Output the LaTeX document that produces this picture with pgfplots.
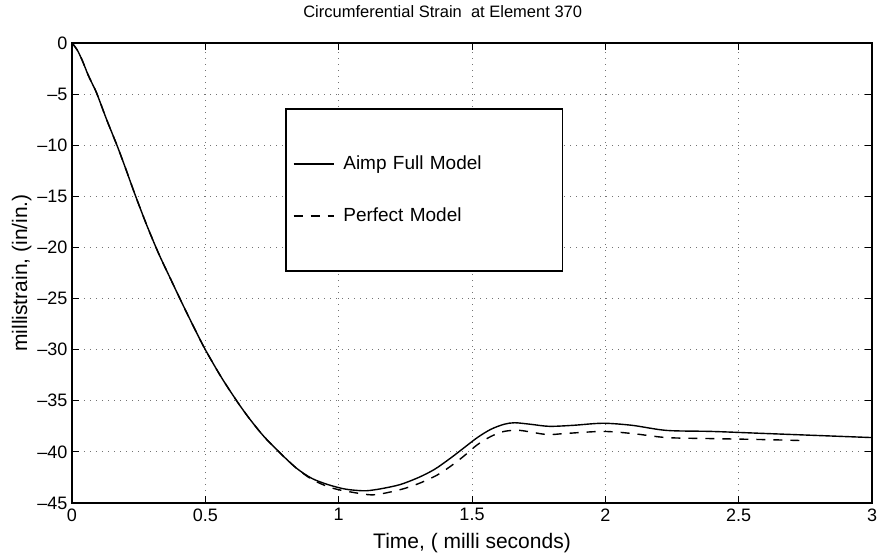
\documentclass[border=0pt]{standalone}
\usepackage{fontspec}
\setmainfont{Liberation Sans}
\usepackage{pgfplots}
\pgfplotsset{compat=1.18}
\begin{document}
\begin{tikzpicture}
\begin{axis}[
  name=ax,
  scale only axis,
  width=800pt, height=460pt,
  xmin=0, xmax=3, ymin=-45, ymax=0,
  xtick={0,0.5,1,1.5,2,2.5,3},
  xticklabels={0,0.5,1,1.5,2,2.5,3},
  ytick={-45,-40,-35,-30,-25,-20,-15,-10,-5,0},
  yticklabels={–45,–40,–35,–30,–25,–20,–15,–10,–5,0},
  tick align=inside,
  major tick length=7pt,
  tick style={black, line width=1pt},
  axis line style={line width=1.2pt},
  grid=major,
  major grid style={black!55, line width=0.8pt, dash pattern=on 1pt off 5pt},
  tick label style={font=\fontsize{18}{21}\selectfont},
  xticklabel style={yshift=-2pt},
  yticklabel style={xshift=-1pt},
  xlabel={Time, ( milli seconds)},
  ylabel={millistrain, (in/in.)},
  label style={font=\fontsize{21}{24}\selectfont},
  xlabel style={yshift=-5pt},
  ylabel style={yshift=-1pt},
  title={Circumferential Strain\ \ at Element 370},
  title style={font=\fontsize{16.5}{20}\selectfont, at={(axis cs:1.39,0)}, anchor=base, yshift=19pt},
  legend cell align=left,
  legend image code/.code={\draw[#1] (0pt,0pt) -- (40pt,0pt);},
  legend style={
    at={(axis cs:0.8,-6.4)}, anchor=north west,
    draw=black, line width=1.2pt, fill=white,
    inner xsep=7pt, inner ysep=46pt,
    row sep=34pt,
    font=\fontsize{19}{22}\selectfont,
    nodes={inner sep=0pt, text height=14pt, text depth=4pt},
    /tikz/every odd column/.append style={column sep=9pt},
    /tikz/every even column/.append style={text width=212pt},
  },
]
\addplot[black, line width=1.4pt, smooth] coordinates {
(0,0) (0.02,-0.7) (0.04,-1.8) (0.06,-3.1) (0.08,-4.2) (0.094,-5.0) (0.13,-7.5)
(0.17,-10.1) (0.2,-12.2) (0.236,-14.8) (0.28,-17.8) (0.325,-20.6) (0.37,-23.1)
(0.41,-25.3) (0.455,-27.7) (0.5,-30) (0.56,-32.7) (0.62,-35.1) (0.667,-36.8)
(0.72,-38.5) (0.78,-40.1) (0.842,-41.6) (0.9,-42.6) (0.96,-43.2) (1.017,-43.6)
(1.06,-43.75) (1.105,-43.8) (1.16,-43.6) (1.23,-43.2) (1.3,-42.5) (1.36,-41.7)
(1.42,-40.6) (1.47,-39.6) (1.52,-38.6) (1.57,-37.8) (1.62,-37.3)
(1.66,-37.15) (1.72,-37.3) (1.79,-37.5) (1.88,-37.4) (1.99,-37.2) (2.1,-37.4)
(2.23,-37.9) (2.4,-38.0) (2.6,-38.2) (2.8,-38.4) (3.0,-38.6)
};
\addlegendentry{Aimp Full Model}
\addplot[black, line width=1.4pt, smooth, dash pattern=on 9pt off 8pt] coordinates {
(0,0) (0.02,-0.7) (0.04,-1.8) (0.06,-3.1) (0.08,-4.2) (0.094,-5.0) (0.13,-7.5)
(0.17,-10.1) (0.2,-12.2) (0.236,-14.8) (0.28,-17.8) (0.325,-20.6) (0.37,-23.1)
(0.41,-25.3) (0.455,-27.7) (0.5,-30) (0.56,-32.7) (0.62,-35.1) (0.667,-36.8)
(0.72,-38.5) (0.78,-40.1) (0.842,-41.6) (0.9,-42.7) (0.96,-43.4) (1.0,-43.7)
(1.04,-43.9) (1.13,-44.2) (1.23,-43.7) (1.3,-43.1) (1.367,-42.3) (1.42,-41.4)
(1.47,-40.4) (1.52,-39.3) (1.57,-38.5) (1.62,-38.0) (1.68,-37.9)
(1.78,-38.3) (1.85,-38.2) (1.99,-38.0) (2.1,-38.2) (2.23,-38.6) (2.4,-38.7)
(2.6,-38.8) (2.75,-38.9)
};
\addlegendentry{Perfect Model}
\end{axis}
\pgfresetboundingbox
\path ([shift={(-72pt,-53pt)}]ax.south west) rectangle ([shift={(10pt,43pt)}]ax.north east);
\end{tikzpicture}
\end{document}
